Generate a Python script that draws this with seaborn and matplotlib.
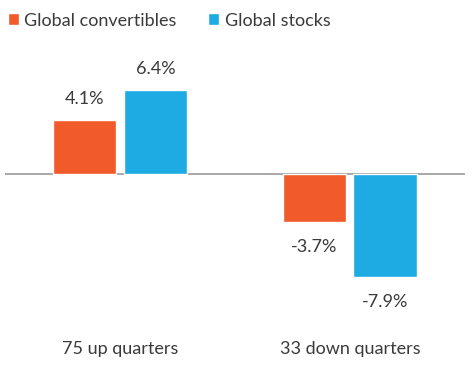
import pandas as pd
import matplotlib.pyplot as plt
import seaborn as sns

# Data
groups = ["75 up quarters", "33 down quarters"]
series = ["Global convertibles", "Global stocks"]
convertibles = [4.1, -3.7]
stocks = [6.4, -7.9]
colors = ["#F15A29", "#1EAAE2"]

df = pd.DataFrame({
    "group": groups * 2,
    "series": [series[0]] * 2 + [series[1]] * 2,
    "value": convertibles + stocks,
})

sns.set_style("white")
plt.rcParams["font.family"] = ["Lato", "DejaVu Sans"]
text_color = "#3a3a3a"

fig = plt.figure(figsize=(4.77, 3.71), dpi=100)
ax = fig.add_axes([0.0105, 1 - 330 / 371, 0.964, (330 - 40) / 371])

sns.barplot(
    data=df, x="group", y="value", hue="series",
    palette=colors, width=0.615, gap=0.1, ax=ax, saturation=1,
)

ax.set_xlim(-0.5, 1.5)
ax.set_ylim(-(330 - 174) / 13.1, (174 - 40) / 13.1)
ax.axhline(0, color="#999999", lw=1.2, zorder=0)

# value labels: a bit more room below negative bars
for c in ax.containers:
    vals = c.datavalues
    ax.bar_label(c, labels=[f"{v:.1f}%" if v >= 0 else "" for v in vals],
                 padding=9.5, fontsize=13, color=text_color)
    ax.bar_label(c, labels=[f"{v:.1f}%" if v < 0 else "" for v in vals],
                 padding=12, fontsize=13, color=text_color)

sns.despine(ax=ax, left=True, bottom=True)
ax.set_yticks([])
ax.set_xlabel("")
ax.set_ylabel("")
ax.tick_params(axis="x", length=0, pad=8, labelsize=13, labelcolor=text_color)

ax.legend(
    loc="upper left", bbox_to_anchor=(-0.017, 1.01), bbox_transform=fig.transFigure,
    ncol=2, frameon=False, fontsize=13, handlelength=0.6, handleheight=0.6,
    handletextpad=0.3, columnspacing=1.75, labelcolor=text_color,
)

fig.savefig("out.png", dpi=100)
